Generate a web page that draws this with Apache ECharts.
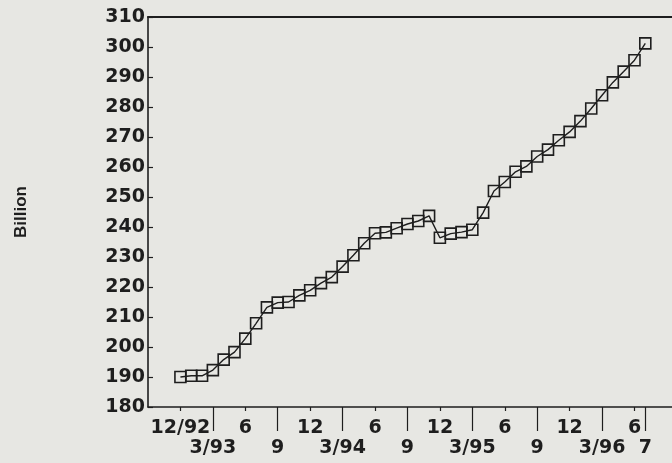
<!DOCTYPE html>
<html>
<head>
<meta charset="utf-8">
<script src="https://cdn.jsdelivr.net/npm/echarts@6/dist/echarts.min.js"></script>
<style>
html,body{margin:0;padding:0;background:#e7e7e3;}
#chart{width:672px;height:463px;}
</style>
</head>
<body>
<div id="chart"></div>
<script>
// Month index 0 = 12/92 ... 43 = 7/96
const months = [0,1,2,3,4,5,6,7,8,9,10,11,12,13,14,15,16,17,18,19,20,21,22,23,24,25,26,27,28,29,30,31,32,33,34,35,36,37,38,39,40,41,42,43];
const values = [190,190.4,190.4,192.3,195.8,198.3,202.8,207.9,213.2,214.8,215,217.2,218.9,221.3,223.3,226.8,230.6,234.6,237.9,238.2,239.6,241,242,243.7,236.4,237.8,238.3,239.1,244.8,252,255,258.4,260.2,263.5,265.8,268.9,271.7,275.3,279.5,283.9,288.2,291.8,295.6,301.2];
const topTickMonths = [0,6,12,18,24,30,36,42];
const topTickLabels = ['12/92','6','12','6','12','6','12','6'];
const bottomTickMonths = [3,9,15,21,27,33,39,43];
const bottomTickLabels = ['3/93','9','3/94','9','3/95','9','3/96','7'];
const yTicks = [180,190,200,210,220,230,240,250,260,270,280,290,300,310];

const chart = echarts.init(document.getElementById('chart'), null, {renderer:'canvas'});
const ink = '#1e1e1e';
const font = 'DejaVu Sans';
const data = months.map((m,i)=>[m, values[i]]);
function lookup(ms, ls){ return v => { const i = ms.indexOf(Math.round(v)); return i>=0 ? ls[i] : ''; }; }
const xMin = -3, xMax = 45.47;

chart.setOption({
  animation:false,
  backgroundColor:'#e7e7e3',
  grid:{left:148, right:0, top:17, bottom:56},
  xAxis:[{
    type:'value', min:xMin, max:xMax, position:'bottom',
    axisLine:{show:true, onZero:false, lineStyle:{color:ink, width:1.6}},
    splitLine:{show:false},
    axisTick:{show:true, customValues:topTickMonths, length:4, lineStyle:{color:ink, width:1.2}},
    axisLabel:{customValues:topTickMonths, formatter:lookup(topTickMonths, topTickLabels), margin:12, fontSize:19, fontWeight:'bold', fontFamily:font, color:ink}
  },{
    type:'value', min:xMin, max:xMax, position:'bottom', gridIndex:0,
    axisLine:{show:false, onZero:false},
    splitLine:{show:false},
    axisTick:{show:true, customValues:bottomTickMonths, length:24, lineStyle:{color:ink, width:1.2}},
    axisLabel:{customValues:bottomTickMonths, formatter:lookup(bottomTickMonths, bottomTickLabels), margin:32, fontSize:19, fontWeight:'bold', fontFamily:font, color:ink}
  },{
    type:'value', min:xMin, max:xMax, position:'top', gridIndex:0,
    axisLine:{show:true, onZero:false, lineStyle:{color:ink, width:2}},
    splitLine:{show:false}, axisTick:{show:false}, axisLabel:{show:false}
  }],
  yAxis:{
    type:'value', min:yTicks[0], max:yTicks[yTicks.length-1], interval:10,
    name:'Billion', nameLocation:'middle', nameRotate:90, nameGap:118,
    nameTextStyle:{fontFamily:'Liberation Sans', fontWeight:'bold', fontSize:17, color:ink},
    axisLine:{show:true, onZero:false, lineStyle:{color:ink, width:1.6}},
    splitLine:{show:false},
    axisTick:{show:true, inside:true, length:5, lineStyle:{color:ink, width:1.2}},
    axisLabel:{margin:3, fontSize:19, fontWeight:'bold', fontFamily:font, color:ink}
  },
  series:[{
    type:'line', data:data, xAxisIndex:0,
    symbol:'rect', symbolSize:11, showAllSymbol:true,
    lineStyle:{color:ink, width:1.4},
    itemStyle:{color:'rgba(0,0,0,0)', borderColor:ink, borderWidth:1.6}
  }]
});
</script>
</body>
</html>
